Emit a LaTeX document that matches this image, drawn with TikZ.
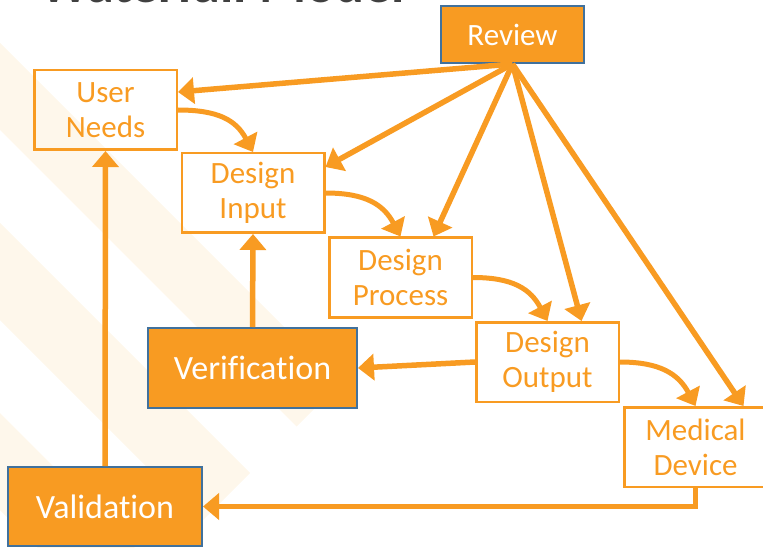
\documentclass[tikz,border=0pt]{standalone}
\usepackage{fontspec}
\setmainfont{Carlito}[Ligatures=NoCommon]
\usetikzlibrary{arrows.meta,calc}
\definecolor{org}{RGB}{248,155,34}
\definecolor{bord}{RGB}{65,113,156}
\definecolor{cream}{RGB}{254,247,235}
\definecolor{ttl}{RGB}{64,64,64}
\begin{document}
\begin{tikzpicture}[x=1pt,y=-1pt,
  wbox/.style={draw=org, line width=2.5pt, text=org, inner sep=0pt,
    minimum width=142.5pt, minimum height=79.5pt, align=center,
    font=\fontsize{31}{35}\selectfont},
  obox/.style={draw=bord, fill=org, line width=2pt, text=white, inner sep=0pt,
    align=center, font=\fontsize{34}{40}\selectfont},
  conn/.style={draw=org, line width=5.5pt, -{Triangle[length=16pt,width=26pt]}},
  curv/.style={draw=org, line width=5pt, -{Triangle[length=16pt,width=26pt]}}
  ]
\path[use as bounding box] (0,0) rectangle (763,548);
\clip (0,0) rectangle (763,548);
% background bands
\fill[cream] (0,43) -- (340,383) -- (296.5,426.5) -- (0,130) -- cycle;
\fill[cream] (0,223) -- (250,473) -- (201.5,521.5) -- (0,320) -- cycle;
\fill[cream] (0,413) -- (155,568) -- (106.5,616.5) -- (0,510) -- cycle;
% title (cut off at the top edge, as in the reference)
\node[anchor=base west, inner sep=0pt, text=ttl,
  font=\fontsize{54}{60}\selectfont\bfseries] (T) at (40,3) {Waterfall Model};
% nodes
\node[wbox] (UN) at (105.5,110) {User\\Needs};
\node[wbox] (DI) at (253,193) {Design\\Input};
\node[wbox] (DP) at (400.5,277.5) {Design\\Process};
\node[wbox] (DO) at (547.5,362) {Design\\Output};
\node[wbox] (MD) at (695.5,447) {Medical\\Device};
\node[obox, minimum width=209pt, minimum height=80pt] (VER) at (252.5,368) {Verification};
\node[obox, minimum width=194pt, minimum height=79pt] (VAL) at (105,506.5) {Validation};
\node[obox, minimum width=143pt, minimum height=57pt,
  font=\fontsize{31}{35}\selectfont] (REV) at (512.5,34.5) {Review};
% review connectors
\draw[conn] (REV.south) -- ([yshift=18pt]UN.east);
\draw[conn] (REV.south) -- ([yshift=26pt]DI.east);
\draw[conn] (REV.south) -- ([xshift=33pt]DP.north);
\draw[conn] (REV.south) -- ([xshift=34pt]DO.north);
\draw[conn] (REV.south) -- ([xshift=48pt]MD.north);
% cascade curves
\draw[curv] (UN.east) .. controls +(40,0) and +(-17,-32) .. (DI.north);
\draw[curv] (DI.east) .. controls +(40,0) and +(-17,-32) .. (DP.north);
\draw[curv] (DP.east) .. controls +(40,0) and +(-17,-32) .. (DO.north);
\draw[curv] (DO.east) .. controls +(40,0) and +(-17,-32) .. (MD.north);
% feedback
\draw[conn] (DO.west) -- (VER.east);
\draw[conn] (VER.north) -- (DI.south);
\draw[conn] (VAL.north) -- (UN.south);
\draw[conn] (MD.south) |- (VAL.east);
\end{tikzpicture}
\end{document}
